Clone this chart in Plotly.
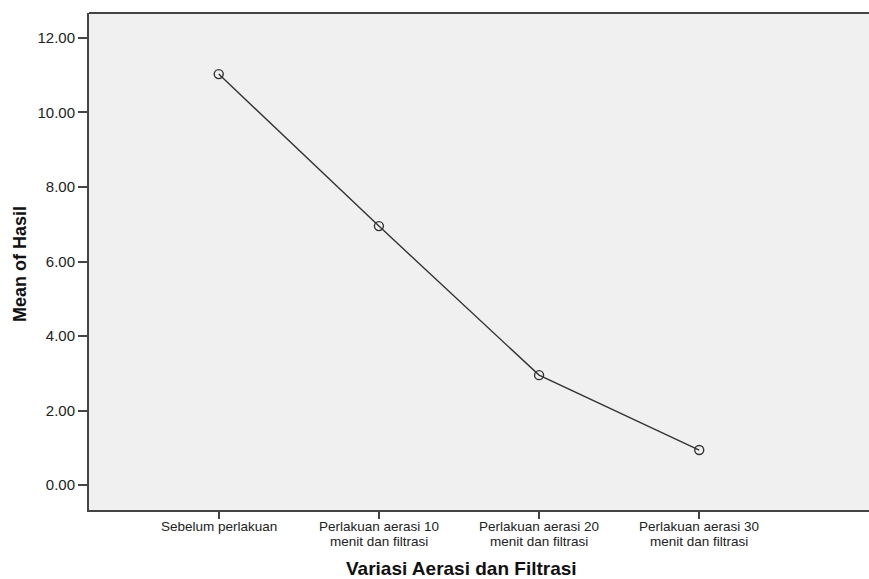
import plotly.graph_objects as go

categories = ["Sebelum perlakuan",
              "Perlakuan aerasi 10<br>menit dan filtrasi",
              "Perlakuan aerasi 20<br>menit dan filtrasi",
              "Perlakuan aerasi 30<br>menit dan filtrasi"]
means = [11.03, 6.95, 2.95, 0.94]
y_ticks = [0, 2, 4, 6, 8, 10, 12]
y_tick_labels = ["0.00", "2.00", "4.00", "6.00", "8.00", "10.00", "12.00"]

xpos = list(range(len(categories)))
font = "Liberation Sans, Arial, sans-serif"
dark = "#333333"

fig = go.Figure()
fig.add_trace(go.Scatter(
    x=xpos, y=means, mode="lines+markers",
    line=dict(color=dark, width=1.4),
    marker=dict(symbol="circle-open", size=9, color=dark, line=dict(width=1.4)),
    showlegend=False, hoverinfo="skip"))

fig.update_layout(
    width=869, height=579,
    margin=dict(l=89, r=0, t=13, b=69),
    paper_bgcolor="white", plot_bgcolor="#F0F0F0",
    font=dict(family=font, color="#222222", size=14),
    xaxis=dict(range=[-0.81, 4.06], tickvals=xpos, ticktext=[""] * len(xpos),
               showgrid=False, zeroline=False, showline=True, linecolor="#444444",
               linewidth=2, ticks="outside", ticklen=7, tickwidth=2, tickcolor="#444444"),
    yaxis=dict(range=[-0.67, 12.67], tickvals=y_ticks, ticktext=y_tick_labels,
               showgrid=False, zeroline=False, showline=True, linecolor="#444444",
               linewidth=2, ticks="outside", ticklen=9, tickwidth=2, tickcolor="#444444",
               tickfont=dict(size=15, family=font, color="#222222")),
)
fig.add_shape(type="line", xref="paper", yref="paper", x0=0, x1=1, y0=1, y1=1,
              line=dict(color="#444444", width=2))

# category tick labels, one annotation per line for tight SPSS-like spacing
for i, lab in zip(xpos, categories):
    for j, line in enumerate(lab.split("<br>")):
        fig.add_annotation(text=line, xref="x", yref="paper", x=i, y=0,
                           yshift=-16 - 15 * j, showarrow=False,
                           xanchor="center", yanchor="middle",
                           font=dict(size=13.5, family=font, color="#222222"))

fig.add_annotation(text="<b>Mean of Hasil</b>", xref="paper", yref="paper",
                   x=0, xshift=-69, y=0.495, textangle=-90, showarrow=False,
                   font=dict(size=18, family=font, color="#111111"),
                   xanchor="center", yanchor="middle")
fig.add_annotation(text="<b>Variasi Aerasi dan Filtrasi</b>", xref="x", yref="paper",
                   x=1.515, y=0, yshift=-58, showarrow=False,
                   font=dict(size=19, family=font, color="#111111"),
                   xanchor="center", yanchor="middle")
fig.write_html("out.html", config={"displayModeBar": False},
               post_script="document.body.style.margin='0';document.body.style.overflow='hidden';")
